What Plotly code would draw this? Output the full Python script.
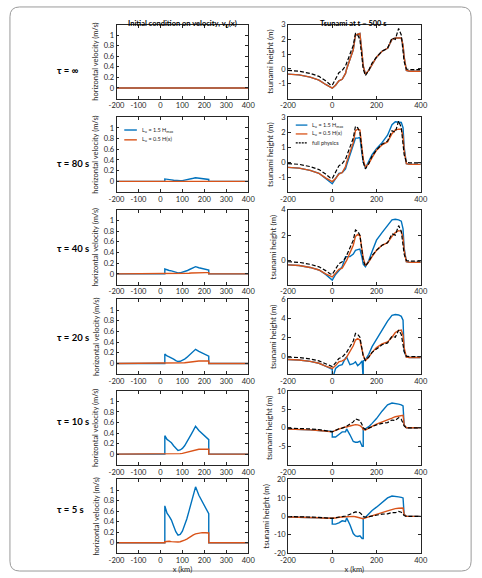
import plotly.graph_objects as go

# ---------------- data ----------------
row_labels = ["τ = ∞", "τ = 80 s", "τ = 40 s", "τ = 20 s", "τ = 10 s", "τ = 5 s"]

# initial velocity profiles (left column)
x_vel = [-200, 20, 20, 25, 30, 40, 50, 60, 70, 80, 90, 100, 110, 120, 130, 140, 150, 160, 175, 190, 205, 220, 220, 400]
vel_blue_inf = [0, 0, 0, 0, 0, 0, 0, 0, 0, 0, 0, 0, 0, 0, 0, 0, 0, 0, 0, 0, 0, 0, 0, 0]
vel_orange_inf = [0, 0, 0, 0, 0, 0, 0, 0, 0, 0, 0, 0, 0, 0, 0, 0, 0, 0, 0, 0, 0, 0, 0, 0]
vel_blue_80 = [0, 0, 0.045, 0.04, 0.036, 0.032, 0.028, 0.02, 0.013, 0.009, 0.01, 0.014, 0.02, 0.029, 0.038, 0.048,
               0.058, 0.068, 0.058, 0.05, 0.043, 0.035, 0, 0]
vel_orange_80 = [0, 0, 0.001, 0.002, 0.002, 0.002, 0.002, 0.001, 0.001, 0.001, 0.001, 0.002, 0.003, 0.005, 0.006, 0.008,
                 0.01, 0.011, 0.012, 0.012, 0.012, 0.012, 0, 0]
vel_blue_40 = [0, 0, 0.09, 0.08, 0.072, 0.064, 0.055, 0.041, 0.027, 0.019, 0.02, 0.028, 0.041, 0.058, 0.077, 0.096,
               0.115, 0.135, 0.115, 0.1, 0.086, 0.07, 0, 0]
vel_orange_40 = [0, 0, 0.003, 0.003, 0.004, 0.004, 0.003, 0.003, 0.002, 0.002, 0.003, 0.004, 0.007, 0.009, 0.013, 0.016,
                 0.019, 0.022, 0.024, 0.025, 0.024, 0.023, 0, 0]
vel_blue_20 = [0, 0, 0.175, 0.155, 0.14, 0.125, 0.108, 0.08, 0.053, 0.036, 0.04, 0.055, 0.08, 0.113, 0.15, 0.188,
               0.225, 0.265, 0.225, 0.195, 0.168, 0.138, 0, 0]
vel_orange_20 = [0, 0, 0.005, 0.006, 0.007, 0.007, 0.006, 0.005, 0.004, 0.004, 0.005, 0.008, 0.013, 0.018, 0.025, 0.032,
                 0.038, 0.043, 0.047, 0.048, 0.048, 0.047, 0, 0]
vel_blue_10 = [0, 0, 0.35, 0.31, 0.28, 0.25, 0.215, 0.16, 0.105, 0.072, 0.08, 0.11, 0.16, 0.225, 0.3, 0.375,
               0.45, 0.53, 0.45, 0.39, 0.335, 0.275, 0, 0]
vel_orange_10 = [0, 0, 0.01, 0.012, 0.014, 0.014, 0.011, 0.009, 0.008, 0.008, 0.01, 0.015, 0.025, 0.035, 0.05, 0.063,
                 0.075, 0.085, 0.093, 0.096, 0.095, 0.093, 0, 0]
vel_blue_5 = [0, 0, 0.70, 0.62, 0.56, 0.50, 0.43, 0.32, 0.21, 0.145, 0.16, 0.22, 0.32, 0.45, 0.6, 0.75,
              0.9, 1.06, 0.9, 0.78, 0.67, 0.55, 0, 0]
vel_orange_5 = [0, 0, 0.02, 0.025, 0.028, 0.028, 0.022, 0.018, 0.015, 0.015, 0.02, 0.03, 0.05, 0.07, 0.1, 0.125,
                0.15, 0.17, 0.185, 0.192, 0.19, 0.185, 0, 0]

# tsunami height at t = 500 s (right column)
x_h = [-200, -150, -100, -60, -30, -10, 0, 0, 15, 30, 45, 60, 65, 80, 95, 105, 115, 125, 135, 140,
       140, 150, 165, 180, 200, 225, 250, 270, 285, 300, 312, 320, 325, 335, 350, 400]
h_full = [-0.1, -0.15, -0.3, -0.5, -0.8, -1.05, -1.1, -1.1, -0.7, -0.25, -0.1, 0.2, 0.4, 1.0, 1.6, 2.4, 2.3, 2.0, 0.8, 0.0,
          0.0, -0.45, -0.1, 0.4, 0.8, 1.2, 1.4, 2.1, 2.0, 2.75, 2.3, 1.2, 0.5, 0.0, -0.05, -0.05]

h_orange_inf = [-0.35, -0.4, -0.55, -0.75, -1.05, -1.25, -1.3, -1.3, -1.1, -0.8, -0.7, -0.3, 0.0, 0.6, 1.3, 2.3, 2.35, 2.4, 1.0, 0.2,
                0.2, -0.35, -0.1, 0.3, 0.8, 1.2, 1.4, 2.0, 2.1, 2.1, 2.1, 1.6, 0.8, -0.1, -0.15, -0.15]
h_blue_inf = [-0.35, -0.4, -0.55, -0.75, -1.05, -1.25, -1.3, -1.3, -1.1, -0.8, -0.7, -0.3, 0.0, 0.6, 1.3, 2.3, 2.35, 2.4, 1.0, 0.2,
              0.2, -0.35, -0.1, 0.3, 0.8, 1.2, 1.4, 2.0, 2.1, 2.1, 2.1, 1.6, 0.8, -0.1, -0.15, -0.15]
h_orange_80 = [-0.35, -0.4, -0.55, -0.75, -1.05, -1.25, -1.3, -1.3, -1.1, -0.8, -0.7, -0.3, 0.0, 0.6, 1.3, 2.1, 2.2, 2.15, 1.0, 0.2,
               0.2, -0.35, -0.1, 0.3, 0.8, 1.15, 1.35, 1.9, 2.15, 2.2, 2.2, 1.7, 0.8, -0.1, -0.15, -0.15]
h_blue_80 = [-0.35, -0.4, -0.55, -0.75, -1.1, -1.35, -1.45, -1.45, -1.1, -0.75, -0.7, -0.45, -0.2, 0.5, 1.2, 1.6, 1.6, 1.65, 0.5, 0.0,
             0.0, -0.4, 0.0, 0.5, 0.9, 1.3, 1.8, 2.5, 2.7, 2.65, 2.65, 2.3, 1.0, -0.1, -0.15, -0.15]
h_orange_40 = [-0.35, -0.4, -0.55, -0.75, -1.05, -1.25, -1.3, -1.3, -1.0, -0.7, -0.6, -0.2, 0.0, 0.6, 1.2, 1.9, 2.05, 1.95, 0.9, 0.2,
               0.2, -0.4, -0.1, 0.3, 0.8, 1.2, 1.4, 1.9, 2.2, 2.35, 2.3, 1.8, 0.8, -0.1, -0.15, -0.15]
h_blue_40 = [-0.35, -0.4, -0.55, -0.75, -1.1, -1.4, -1.55, -1.55, -1.1, -0.8, -0.5, 0.3, 0.3, 0.3, 0.5, 0.8, 0.85, 0.9, 0.2, -0.3,
             -0.3, -0.5, 0.0, 0.7, 1.6, 2.2, 2.8, 3.2, 3.25, 3.2, 3.1, 2.5, 1.0, -0.1, -0.15, -0.15]
h_orange_20 = [-0.35, -0.4, -0.55, -0.75, -1.05, -1.25, -1.3, -1.3, -1.0, -0.6, -0.5, -0.3, -0.1, 0.5, 1.1, 1.7, 1.85, 1.7, 0.8, 0.1,
               0.1, -0.45, -0.1, 0.4, 0.9, 1.3, 1.5, 2.0, 2.5, 2.7, 2.75, 2.2, 0.9, -0.1, -0.15, -0.15]
h_blue_20 = [-0.35, -0.4, -0.55, -0.75, -1.05, -1.3, -1.4, -2.5, -1.3, -1.0, -0.9, -0.2, -0.1, -0.9, -0.8, -0.6, -1.0, -0.8, -0.5, -2.5,
             -0.5, -0.4, 0.2, 1.0, 1.8, 2.8, 3.7, 4.3, 4.4, 4.35, 4.2, 3.8, 0.5, -0.1, -0.15, -0.15]
h_orange_10 = [-0.35, -0.4, -0.55, -0.75, -1.0, -1.1, -1.1, -1.1, -0.7, -0.3, 0.0, 0.2, 0.2, 0.5, 0.8, 0.85, 0.8, 0.6, 0.1, -0.5,
               -0.5, -0.6, -0.2, 0.4, 1.0, 1.5, 2.0, 2.6, 3.0, 3.2, 3.4, 3.4, 0.8, 0.0, 0.0, 0.0]
h_blue_10 = [-0.35, -0.4, -0.55, -0.75, -0.95, -1.0, -1.0, -2.5, -2.5, -1.8, -1.1, -1.1, -0.3, -1.9, -3.7, -3.9, -3.9, -3.6, -5.0, -5.0,
             -0.5, -0.3, 0.3, 1.2, 2.5, 4.5, 6.2, 6.7, 6.6, 6.4, 6.2, 5.9, 0.8, 0.0, 0.0, 0.0]
h_orange_5 = [-0.35, -0.4, -0.55, -0.75, -1.0, -1.1, -1.1, -1.1, -0.9, -0.5, -0.3, -0.1, 0.0, 0.0, 0.0, -0.2, -0.5, -0.9, -1.2, -1.3,
              -1.3, -0.8, -0.3, 0.3, 1.2, 2.0, 3.0, 3.8, 4.2, 4.4, 4.5, 4.5, 1.0, 0.0, 0.0, 0.0]
h_blue_5 = [-0.35, -0.4, -0.55, -0.75, -0.95, -1.0, -1.0, -4.2, -4.2, -3.5, -2.4, -2.7, -0.8, -4.5, -9.3, -10.6, -10.9, -10.5, -12.0, -12.0,
            -1.0, -0.5, 1.5, 3.2, 5.0, 7.5, 10.0, 11.0, 11.0, 10.6, 10.3, 10.0, 1.0, 0.0, 0.0, 0.0]

vel_blue = [vel_blue_inf, vel_blue_80, vel_blue_40, vel_blue_20, vel_blue_10, vel_blue_5]
vel_orange = [vel_orange_inf, vel_orange_80, vel_orange_40, vel_orange_20, vel_orange_10, vel_orange_5]
h_blue = [h_blue_inf, h_blue_80, h_blue_40, h_blue_20, h_blue_10, h_blue_5]
h_orange = [h_orange_inf, h_orange_80, h_orange_40, h_orange_20, h_orange_10, h_orange_5]

vel_ticks = [0, 0.2, 0.4, 0.6, 0.8, 1]
vel_ticktext = ["0", "0.2", "0.4", "0.6", "0.8", "1"]
xv_ticks = [-200, -100, 0, 100, 200, 300, 400]
xv_ticktext = ["-200", "-100", "0", "100", "200", "300", "400"]
xh_ticks = [-200, 0, 200, 400]
xh_ticktext = ["-200", "0", "200", "400"]
h_ranges = [[-2, 3], [-2, 3], [-1.9, 4], [-1.9, 6], [-10, 10], [-20, 20]]
h_ticks = [[-1, 0, 1, 2, 3], [-1, 0, 1, 2, 3], [0, 2, 4], [0, 2, 4, 6], [-5, 0, 5, 10], [-20, -10, 0, 10, 20]]
h_ticktext = [["-1", "0", "1", "2", "3"], ["-1", "0", "1", "2", "3"], ["0", "2", "4"], ["0", "2", "4", "6"],
              ["-5", "0", "5", "10"], ["-20", "-10", "0", "10", "20"]]

# ---------------- layout / style ----------------
W, H = 482, 578
BLUE = "#0072BD"
ORANGE = "#D95319"
AX = "#262626"
FONT = "Lato"

rows_px = [(21, 96), (115, 191), (209, 285), (300, 376), (393, 468), (483, 558)]
left_px = (112, 248)
right_px = (289, 426)


def px_x(p):
    return p / W


def px_y(p):
    return 1 - p / H


fig = go.Figure()
layout = dict(
    width=W, height=H, margin=dict(l=0, r=0, t=0, b=0),
    paper_bgcolor="white", plot_bgcolor="white", showlegend=False,
    font=dict(family=FONT, size=7, color=AX),
)

axis_common = dict(showline=True, linecolor=AX, linewidth=0.8, mirror="ticks", ticks="inside",
                   ticklen=3, tickwidth=0.6, tickcolor=AX, showgrid=False, zeroline=False,
                   tickfont=dict(family=FONT, size=7.5, color=AX))

for r in range(6):
    top, bot = rows_px[r]
    ydom = [px_y(bot), px_y(top)]
    for c in range(2):
        k = 2 * r + c + 1
        xa = "x" if k == 1 else f"x{k}"
        ya = "y" if k == 1 else f"y{k}"
        xkey = "xaxis" if k == 1 else f"xaxis{k}"
        ykey = "yaxis" if k == 1 else f"yaxis{k}"
        if c == 0:
            xdom = [px_x(left_px[0]), px_x(left_px[1])]
            layout[xkey] = dict(axis_common, domain=xdom, anchor=ya, range=[-200, 400],
                                tickvals=xv_ticks, ticktext=xv_ticktext)
            layout[ykey] = dict(axis_common, domain=ydom, anchor=xa, range=[-0.2, 1.2],
                                tickvals=vel_ticks, ticktext=vel_ticktext,
                                title=dict(text="horizontal velocity (m/s)", standoff=3,
                                           font=dict(family=FONT, size=7.5, color=AX)))
            fig.add_trace(go.Scatter(x=x_vel, y=vel_blue[r], mode="lines", xaxis=xa, yaxis=ya,
                                     line=dict(color=BLUE, width=1.4)))
            fig.add_trace(go.Scatter(x=x_vel, y=vel_orange[r], mode="lines", xaxis=xa, yaxis=ya,
                                     line=dict(color=ORANGE, width=1.4)))
        else:
            xdom = [px_x(right_px[0]), px_x(right_px[1])]
            layout[xkey] = dict(axis_common, domain=xdom, anchor=ya, range=[-200, 400],
                                tickvals=xh_ticks, ticktext=xh_ticktext)
            layout[ykey] = dict(axis_common, domain=ydom, anchor=xa, range=h_ranges[r],
                                tickvals=h_ticks[r], ticktext=h_ticktext[r],
                                title=dict(text="tsunami height (m)", standoff=3,
                                           font=dict(family=FONT, size=8, color=AX)))
            fig.add_trace(go.Scatter(x=x_h, y=h_blue[r], mode="lines", xaxis=xa, yaxis=ya,
                                     line=dict(color=BLUE, width=1.4)))
            fig.add_trace(go.Scatter(x=x_h, y=h_orange[r], mode="lines", xaxis=xa, yaxis=ya,
                                     line=dict(color=ORANGE, width=1.4)))
            fig.add_trace(go.Scatter(x=x_h, y=h_full, mode="lines", xaxis=xa, yaxis=ya,
                                     line=dict(color="black", width=1.2, dash="4px,2px")))
        if r == 5:
            layout[xkey]["title"] = dict(text="x (km)", standoff=2,
                                         font=dict(family=FONT, size=7.5, color=AX))

annotations = []
# column titles
annotations.append(dict(text="<b>Initial condition on velocity, v<sub>0</sub>(x)</b>", x=px_x(180), y=px_y(13),
                        xref="paper", yref="paper", xanchor="center", showarrow=False,
                        font=dict(family=FONT, size=7.5, color="black")))
annotations.append(dict(text="<b>Tsunami at t = 500 s</b>", x=px_x(357), y=px_y(13),
                        xref="paper", yref="paper", xanchor="center", showarrow=False,
                        font=dict(family=FONT, size=7.5, color="black")))
# row labels
for r in range(6):
    top, bot = rows_px[r]
    annotations.append(dict(text=f"<b>{row_labels[r]}</b>", x=px_x(48), y=px_y((top + bot) / 2 + 1),
                            xref="paper", yref="paper", xanchor="left", showarrow=False,
                            font=dict(family=FONT, size=9.5, color="black")))

# legends (row 2)
shapes = []
leg_left = [("L<sub>u</sub> = 1.5 H<sub>max</sub>", BLUE, "solid", 128),
            ("L<sub>u</sub> = 0.5 H(x)", ORANGE, "solid", 138)]
for txt, col, dash, yy in leg_left:
    shapes.append(dict(type="line", xref="paper", yref="paper", x0=px_x(120), x1=px_x(133),
                       y0=px_y(yy), y1=px_y(yy), line=dict(color=col, width=1.4, dash=dash)))
    annotations.append(dict(text=txt, x=px_x(136), y=px_y(yy), xref="paper", yref="paper",
                            xanchor="left", yanchor="middle", showarrow=False,
                            font=dict(family=FONT, size=5.5, color=AX)))
leg_right = [("L<sub>u</sub> = 1.5 H<sub>max</sub>", BLUE, "solid", 123),
             ("L<sub>u</sub> = 0.5 H(x)", ORANGE, "solid", 132),
             ("full physics", "black", "2px,1px", 141)]
for txt, col, dash, yy in leg_right:
    shapes.append(dict(type="line", xref="paper", yref="paper", x0=px_x(297), x1=px_x(309),
                       y0=px_y(yy), y1=px_y(yy), line=dict(color=col, width=1.3, dash=dash)))
    annotations.append(dict(text=txt, x=px_x(312), y=px_y(yy), xref="paper", yref="paper",
                            xanchor="left", yanchor="middle", showarrow=False,
                            font=dict(family=FONT, size=5.5, color=AX)))

# rounded outer border
x0, y0, x1, y1, rr = 2, 3, 478, 576, 10
pts = [
    f"M {px_x(x0 + rr)},{px_y(y0)}",
    f"L {px_x(x1 - rr)},{px_y(y0)}",
    f"Q {px_x(x1)},{px_y(y0)} {px_x(x1)},{px_y(y0 + rr)}",
    f"L {px_x(x1)},{px_y(y1 - rr)}",
    f"Q {px_x(x1)},{px_y(y1)} {px_x(x1 - rr)},{px_y(y1)}",
    f"L {px_x(x0 + rr)},{px_y(y1)}",
    f"Q {px_x(x0)},{px_y(y1)} {px_x(x0)},{px_y(y1 - rr)}",
    f"L {px_x(x0)},{px_y(y0 + rr)}",
    f"Q {px_x(x0)},{px_y(y0)} {px_x(x0 + rr)},{px_y(y0)} Z",
]
shapes.append(dict(type="path", xref="paper", yref="paper", path=" ".join(pts),
                   line=dict(color="#9a9a9a", width=1)))

layout["annotations"] = annotations
layout["shapes"] = shapes
fig.update_layout(**layout)
fig.write_html("out.html")
